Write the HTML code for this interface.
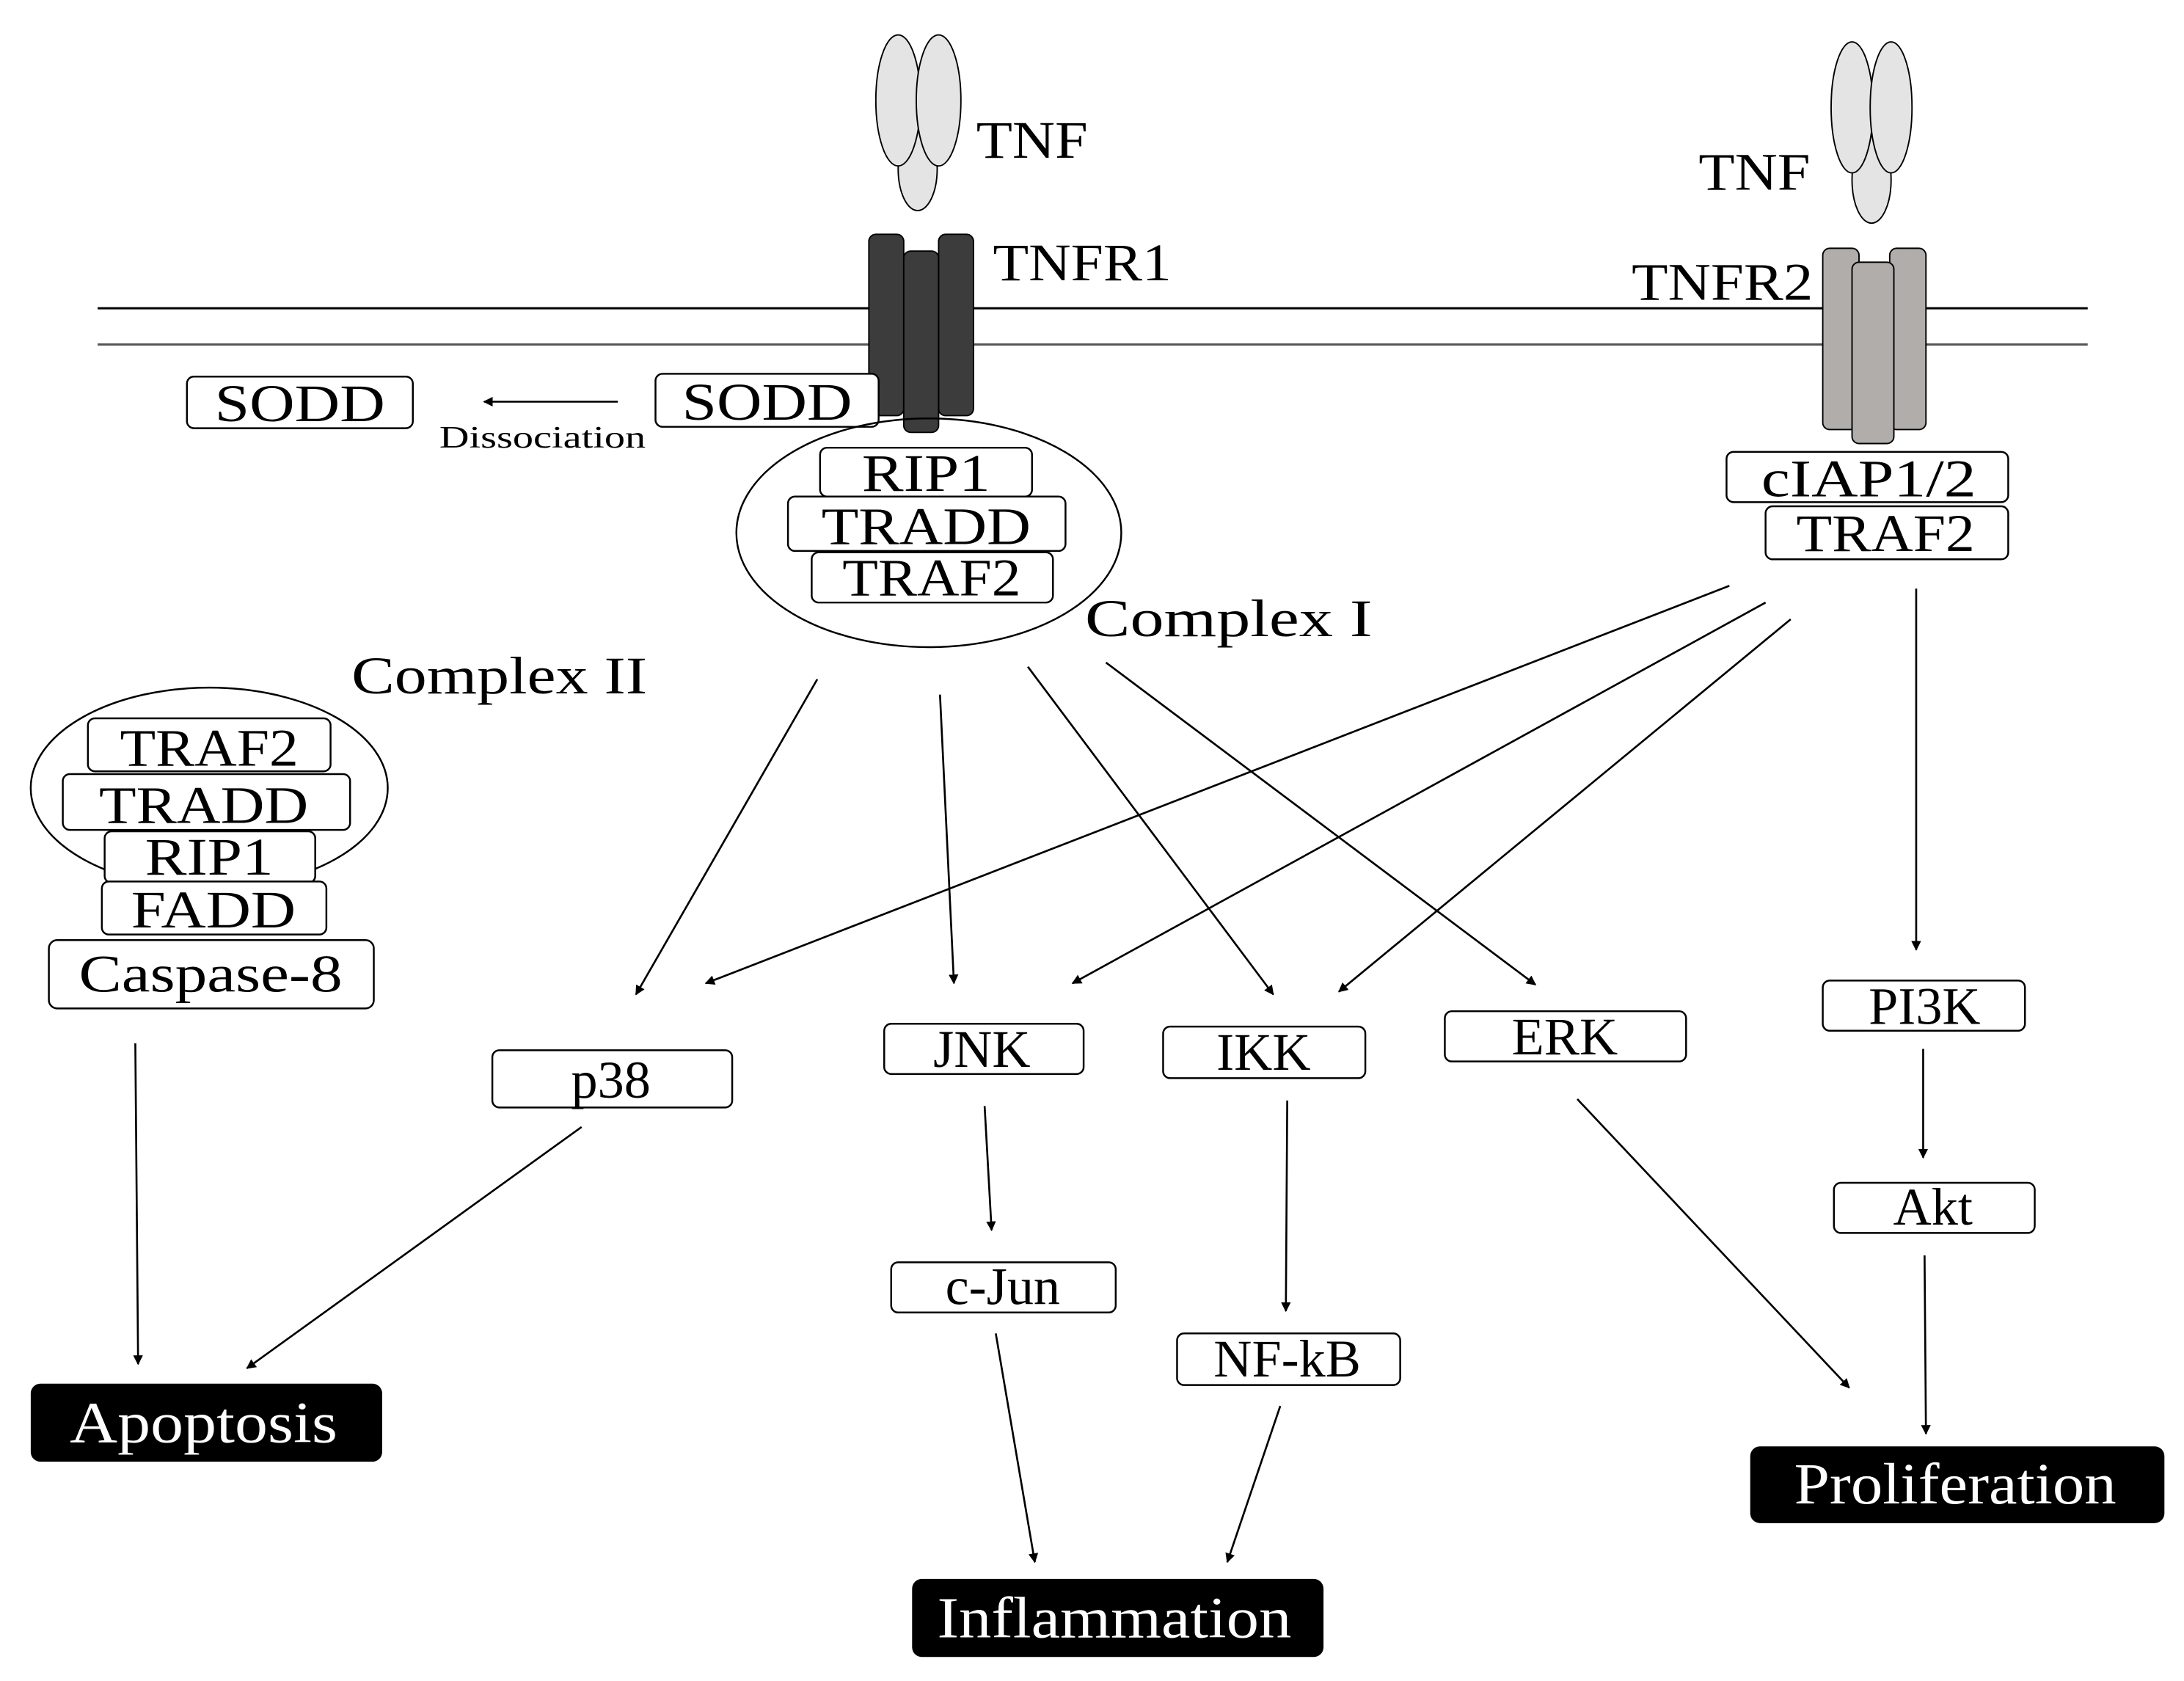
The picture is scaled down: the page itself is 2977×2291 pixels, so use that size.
<!DOCTYPE html>
<html><head><meta charset="utf-8"><style>
html,body{margin:0;padding:0;background:#fff}
svg{display:block}
text{font-family:"Liberation Serif",serif;fill:#000}
text.w{fill:#fff !important}
</style></head><body>
<svg width="2977" height="2291" viewBox="0 0 1566 1205.2" xmlns="http://www.w3.org/2000/svg">
<defs>
<marker id="a" viewBox="0 0 10 10" refX="9" refY="5" markerWidth="7" markerHeight="7" markerUnits="userSpaceOnUse" orient="auto"><path d="M0,0 L10,5 L0,10 z" fill="#000"/></marker>
</defs>
<rect width="1566" height="1206" fill="#fff"/>
<line x1="70" y1="221" x2="1497" y2="221" stroke="#000" stroke-width="1.6"/>
<line x1="70" y1="247" x2="1497" y2="247" stroke="#555" stroke-width="1.6"/>
<g fill="#e4e4e4" stroke="#000" stroke-width="1">
<ellipse cx="658" cy="121" rx="14" ry="30"/>
<ellipse cx="644" cy="72" rx="16" ry="47"/>
<ellipse cx="673" cy="72" rx="16" ry="47"/>
<ellipse cx="1342" cy="129" rx="14" ry="31"/>
<ellipse cx="1328" cy="77" rx="15" ry="47"/>
<ellipse cx="1356" cy="77" rx="15" ry="47"/>
</g>
<text x="700" y="113" font-size="38" textLength="80" lengthAdjust="spacingAndGlyphs">TNF</text>
<text x="1218" y="136" font-size="38" textLength="80" lengthAdjust="spacingAndGlyphs">TNF</text>
<g fill="#3c3c3c" stroke="#000" stroke-width="1">
<rect x="623" y="168" width="25" height="130" rx="5"/>
<rect x="673" y="168" width="25" height="130" rx="5"/>
<rect x="648" y="180" width="25" height="130" rx="5"/>
</g>
<text x="712" y="201" font-size="38" textLength="128" lengthAdjust="spacingAndGlyphs">TNFR1</text>
<g fill="#b0adab" stroke="#000" stroke-width="1">
<rect x="1307" y="178" width="26" height="130" rx="5"/>
<rect x="1355" y="178" width="26" height="130" rx="5"/>
<rect x="1328" y="188" width="30" height="130" rx="5"/>
</g>
<text x="1170" y="215" font-size="38" textLength="130" lengthAdjust="spacingAndGlyphs">TNFR2</text>
<g fill="#fff" stroke="#000" stroke-width="1.3">
<rect x="134" y="270" width="162" height="37" rx="5"/>
<rect x="470" y="268" width="160" height="38" rx="5"/>
<ellipse cx="666" cy="382" rx="138" ry="82" fill="none"/>
<rect x="588" y="321" width="152" height="35" rx="5"/>
<rect x="565" y="356" width="199" height="39" rx="5"/>
<rect x="582" y="396" width="173" height="36" rx="5"/>
<ellipse cx="150" cy="565" rx="128" ry="72" fill="none"/>
<rect x="63" y="515" width="174" height="38" rx="5"/>
<rect x="45" y="555" width="206" height="40" rx="5"/>
<rect x="75" y="596" width="151" height="37" rx="5"/>
<rect x="73" y="632" width="161" height="38" rx="5"/>
<rect x="35" y="674" width="233" height="49" rx="6"/>
<rect x="1238" y="324" width="202" height="36" rx="5"/>
<rect x="1266" y="363" width="174" height="38" rx="5"/>
<rect x="353" y="753" width="172" height="41" rx="5"/>
<rect x="634" y="734" width="143" height="36" rx="5"/>
<rect x="834" y="736" width="145" height="37" rx="5"/>
<rect x="1036" y="725" width="173" height="36" rx="5"/>
<rect x="1307" y="703" width="145" height="36" rx="5"/>
<rect x="639" y="905" width="161" height="36" rx="5"/>
<rect x="844" y="956" width="160" height="37" rx="5"/>
<rect x="1315" y="848" width="144" height="36" rx="5"/>
</g>
<g fill="#000">
<rect x="22" y="992" width="252" height="56" rx="7"/>
<rect x="654" y="1132" width="295" height="56" rx="7"/>
<rect x="1255" y="1037" width="297" height="55" rx="7"/>
</g>
<g font-size="38" text-anchor="middle">
<text x="215" y="302" textLength="122" lengthAdjust="spacingAndGlyphs">SODD</text>
<text x="550" y="301" textLength="122" lengthAdjust="spacingAndGlyphs">SODD</text>
<text x="664" y="352" textLength="92" lengthAdjust="spacingAndGlyphs">RIP1</text>
<text x="664" y="390" textLength="150" lengthAdjust="spacingAndGlyphs">TRADD</text>
<text x="668" y="427" textLength="128" lengthAdjust="spacingAndGlyphs">TRAF2</text>
<text x="150" y="549" textLength="128" lengthAdjust="spacingAndGlyphs">TRAF2</text>
<text x="146" y="590" textLength="150" lengthAdjust="spacingAndGlyphs">TRADD</text>
<text x="150" y="627" textLength="92" lengthAdjust="spacingAndGlyphs">RIP1</text>
<text x="153" y="665" textLength="118" lengthAdjust="spacingAndGlyphs">FADD</text>
<text x="151" y="711" textLength="189" lengthAdjust="spacingAndGlyphs">Caspase-8</text>
<text x="1340" y="356" textLength="154" lengthAdjust="spacingAndGlyphs">cIAP1/2</text>
<text x="1352" y="395" textLength="128" lengthAdjust="spacingAndGlyphs">TRAF2</text>
<text x="438" y="787">p38</text>
<text x="704" y="765">JNK</text>
<text x="906" y="767">IKK</text>
<text x="1122" y="756">ERK</text>
<text x="1380" y="734">PI3K</text>
<text x="719" y="935">c-Jun</text>
<text x="923" y="987">NF-kB</text>
<text x="1386" y="878">Akt</text>
</g>
<g font-size="42" text-anchor="middle">
<text class="w" x="146" y="1034" textLength="192" lengthAdjust="spacingAndGlyphs">Apoptosis</text>
<text class="w" x="799" y="1174" textLength="254" lengthAdjust="spacingAndGlyphs">Inflammation</text>
<text class="w" x="1402" y="1078" textLength="231" lengthAdjust="spacingAndGlyphs">Proliferation</text>
</g>
<text x="778" y="456" font-size="38" textLength="206" lengthAdjust="spacingAndGlyphs">Complex  I</text>
<text x="252" y="497" font-size="38" textLength="212" lengthAdjust="spacingAndGlyphs">Complex  II</text>
<text x="315" y="321" font-size="22" textLength="148" lengthAdjust="spacingAndGlyphs">Dissociation</text>
<g stroke="#000" stroke-width="1.4" fill="none" marker-end="url(#a)">
<line x1="443" y1="288" x2="347" y2="288"/>
<line x1="586" y1="487" x2="456" y2="713"/>
<line x1="1240" y1="420" x2="506" y2="705"/>
<line x1="674" y1="498" x2="684" y2="705"/>
<line x1="1266" y1="432" x2="769" y2="705"/>
<line x1="737" y1="478" x2="913" y2="713"/>
<line x1="1284" y1="444" x2="960" y2="711"/>
<line x1="793" y1="475" x2="1101" y2="706"/>
<line x1="1374" y1="422" x2="1374" y2="681"/>
<line x1="97" y1="748" x2="99" y2="978"/>
<line x1="417" y1="808" x2="177" y2="981"/>
<line x1="706" y1="793" x2="711" y2="882"/>
<line x1="923" y1="789" x2="922" y2="940"/>
<line x1="1131" y1="788" x2="1326" y2="995"/>
<line x1="1379" y1="752" x2="1379" y2="830"/>
<line x1="1380" y1="900" x2="1381" y2="1028"/>
<line x1="714" y1="956" x2="742" y2="1120"/>
<line x1="918" y1="1008" x2="880" y2="1120"/>
</g>
</svg>
</body></html>
